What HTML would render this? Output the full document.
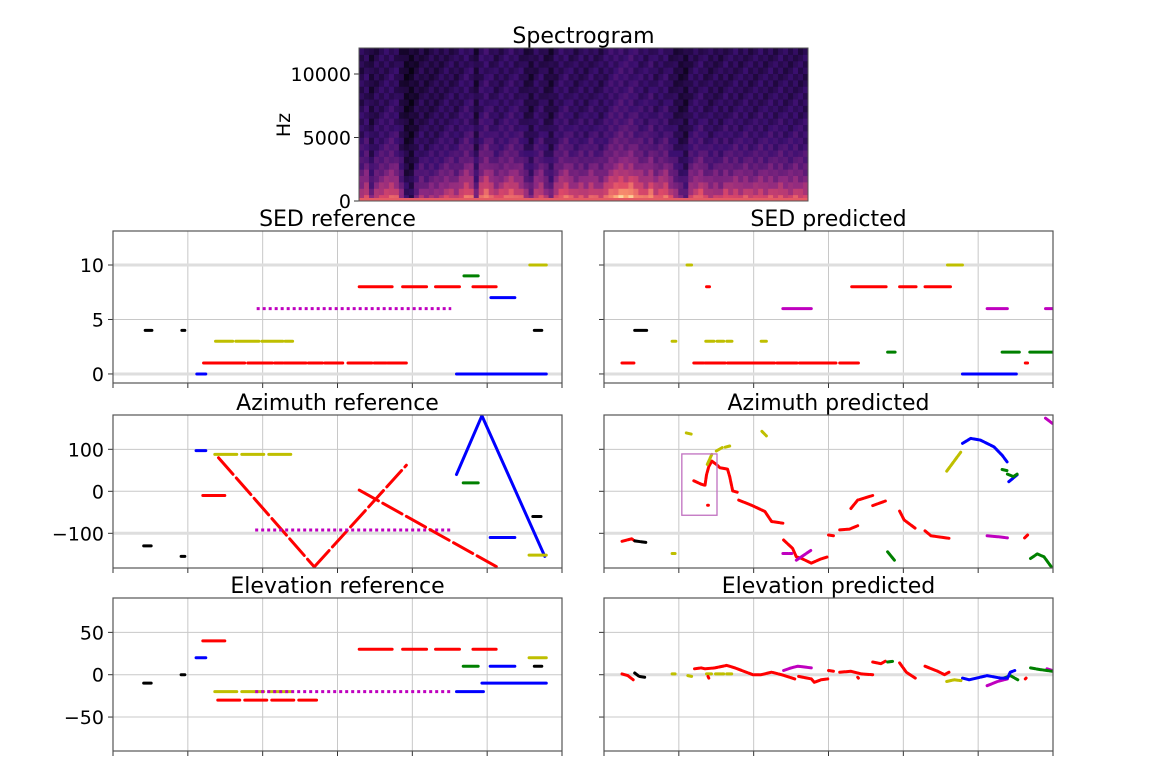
<!DOCTYPE html>
<html><head><meta charset="utf-8"><style>
html,body{margin:0;padding:0;background:#fff;}
svg{display:block;font-family:"DejaVu Sans","Liberation Sans",sans-serif;}
</style></head><body>
<svg id="fig" width="1167" height="765" viewBox="0 0 1167 765" xmlns="http://www.w3.org/2000/svg"></svg>
<script>
// ---------- data ----------
const specLoudness = [0.45,0.55,0.3,0.45,0.5,0.55,0.6,0.55,0.35,0.15,0.12,0.3,0.4,0.35,0.4,0.4,0.45,0.5,0.5,0.45,0.55,0.65,0.6,0.3,0.6,0.7,0.6,0.5,0.55,0.6,0.65,0.6,0.55,0.4,0.3,0.5,0.55,0.4,0.3,0.5,0.6,0.65,0.55,0.5,0.55,0.5,0.6,0.55,0.5,0.6,0.7,0.75,0.8,0.75,0.8,0.7,0.65,0.6,0.7,0.55,0.6,0.65,0.5,0.4,0.3,0.25,0.5,0.55,0.6,0.5,0.45,0.5,0.45,0.55,0.5,0.55,0.5,0.55,0.5,0.5,0.55,0.5,0.55,0.5,0.55,0.5,0.5,0.55,0.5,0.5];
const specTicks = [0,5000,10000];
const sedTicks = [0,5,10];
const aziTicks = [-100,0,100];
const eleTicks = [-50,0,50];
const xTicks = [0,1,2,3,4,5,6];

// segments: [color, x1, y1, x2, y2, style]
const sedRefSegs = [
 ['k',.43,4,.52,4],['k',.92,4,.96,4],['k',5.63,4,5.73,4],
 ['b',1.12,0,1.24,0],['b',4.59,0,5.79,0],
 ['r',1.21,1,1.76,1],['r',1.80,1,2.13,1],['r',2.16,1,2.27,1],['r',2.29,1,2.58,1],['r',2.61,1,2.80,1],['r',2.83,1,3.07,1],['r',3.14,1,3.46,1],['r',3.49,1,3.65,1],['r',3.67,1,3.92,1],
 ['y',1.37,3,1.60,3],['y',1.64,3,1.95,3],['y',1.99,3,2.27,3],['y',2.30,3,2.40,3],
 ['m',1.92,6,4.52,6,'dot'],
 ['r',3.29,8,3.73,8],['r',3.87,8,4.19,8],['r',4.31,8,4.63,8],['r',4.81,8,5.12,8],
 ['g',4.69,9,4.88,9],['b',5.05,7,5.37,7],['y',5.57,10,5.79,10]
];
const aziRefSegs = [
 ['k',.41,-130,.51,-130],['k',.91,-155,.96,-155],['b',1.11,97,1.24,97],
 ['r',1.2,-10,1.55,-10,'dash'],['y',1.36,88,2.43,88,'dash'],
 ['r',1.41,80,2.69,-180,'dash'],['r',2.69,-180,3.92,62,'dash'],
 ['m',1.9,-92,4.52,-92,'dot'],['r',3.29,3,5.13,-180,'dash'],
 ['b',4.59,40,4.93,180],['b',4.93,180,5.77,-155],
 ['g',4.68,20,4.88,20],['b',5.04,-110,5.37,-110],['k',5.61,-60,5.72,-60],['y',5.56,-152,5.79,-152]
];
const eleRefSegs = [
 ['k',.41,-10,.51,-10],['k',.91,0,.96,0],['b',1.11,20,1.24,20],['r',1.2,40,1.55,40,'dash'],
 ['y',1.36,-20,2.43,-20,'dash'],['r',1.40,-30,2.72,-30,'dash'],['m',1.9,-20,4.52,-20,'dot'],
 ['r',3.29,30,3.73,30],['r',3.87,30,4.19,30],['r',4.31,30,4.63,30],['r',4.81,30,5.12,30],
 ['b',4.59,-20,4.95,-20],['g',4.68,10,4.88,10],['b',5.04,10,5.37,10],['b',4.93,-10,5.79,-10],
 ['k',5.63,10,5.73,10],['y',5.56,20,5.79,20]
];
const sedPredSegs = [
 ['r',.24,1,.40,1],['k',.41,4,.57,4],['y',.91,3,.96,3],['y',1.11,10,1.17,10],['r',1.37,8,1.41,8],
 ['y',1.36,3,1.47,3],['y',1.51,3,1.60,3],['y',1.64,3,1.71,3],['y',2.10,3,2.17,3],
 ['r',1.20,1,1.33,1],['r',1.35,1,1.62,1],['r',1.65,1,2.28,1],['r',2.31,1,2.58,1],['r',2.61,1,3.10,1],['r',3.15,1,3.40,1],
 ['m',2.39,6,2.77,6],['r',3.31,8,3.77,8],['r',3.95,8,4.17,8],['r',4.29,8,4.63,8],
 ['g',3.79,2,3.89,2],['y',4.59,10,4.79,10],['b',4.79,0,5.51,0],['m',5.12,6,5.39,6],
 ['g',5.32,2,5.55,2],['r',5.63,1,5.66,1],['g',5.69,2,6.0,2],['m',5.9,6,6.0,6]
];
// polylines: [color, flat x,y list]
const aziPredLines = [
 ['r',[.24,-119,.37,-113,.41,-118]],['k',[.41,-118,.49,-120,.57,-122]],
 ['y',[.91,-148,.95,-148]],['y',[1.1,139,1.17,136]],
 ['r',[1.20,25,1.30,17,1.35,14,1.37,39,1.40,59,1.44,72,1.50,64,1.55,56,1.65,53,1.68,35,1.72,1,1.78,-2]],
 ['r',[1.80,-21,1.97,-33,2.15,-48,2.24,-72,2.39,-76]],
 ['r',[2.40,-116,2.52,-136,2.57,-156,2.64,-160,2.77,-171,2.90,-161,2.99,-156]],
 ['r',[3.00,-104,3.07,-106]],['r',[3.15,-92,3.28,-90,3.39,-82]],
 ['r',[3.30,-41,3.39,-21,3.59,-10]],['r',[3.59,-34,3.76,-23]],
 ['r',[3.95,-47,4.01,-68,4.16,-88]],['r',[4.29,-94,4.37,-106,4.61,-112]],
 ['r',[5.62,-111,5.66,-104]],['r',[1.385,-33,1.395,-33]],
 ['y',[1.38,64,1.44,88]],['y',[1.50,96,1.58,104]],['y',[1.62,105,1.68,108]],['y',[2.11,143,2.17,132]],['y',[4.58,48,4.77,94]],
 ['b',[4.79,114,4.90,126,5.03,122,5.21,106,5.32,86,5.39,69]],['b',[5.41,23,5.52,39]],
 ['g',[5.32,52,5.39,49]],['g',[5.39,41,5.47,35,5.52,41]],['g',[3.79,-144,3.88,-164]],
 ['g',[5.70,-160,5.79,-149,5.88,-156,5.99,-183]],
 ['m',[2.39,-148,2.51,-148]],['m',[2.57,-164,2.77,-140]],['m',[5.12,-106,5.26,-108,5.39,-111]],['m',[5.90,174,5.99,162]]
];
const elePredLines = [
 ['r',[.24,1,.32,-1,.39,-6]],['k',[.41,2,.47,-2,.55,-3]],
 ['y',[.91,1,.95,1]],['y',[1.12,-1,1.17,-2]],['y',[1.37,1,1.45,1]],['y',[1.49,1,1.60,1]],['y',[1.64,1,1.71,1]],
 ['r',[1.21,7,1.30,8,1.35,7,1.48,8,1.64,11,1.75,8,1.84,5,1.99,0,2.10,0,2.24,3,2.37,0,2.55,-5]],
 ['r',[2.60,-2,2.77,-5,2.81,-9,2.90,-6,2.99,-5]],['r',[3.00,5,3.07,4]],
 ['r',[3.15,3,3.30,4,3.44,1,3.59,0]],['r',[3.39,-3,3.40,-4]],['r',[1.39,-2,1.40,-4]],
 ['r',[3.59,15,3.70,13,3.76,16]],['r',[3.95,14,4.04,3,4.16,-4]],
 ['r',[4.29,10,4.46,4,4.55,0,4.61,3]],['r',[5.63,-5,5.64,-4]],
 ['m',[2.40,5,2.50,8,2.59,10,2.77,8]],['m',[5.12,-13,5.26,-8,5.39,-5]],['m',[5.92,7,5.99,5]],
 ['g',[3.79,15,3.87,16]],['g',[5.34,-4,5.43,-1,5.53,-6]],['g',[5.70,8,5.83,6,5.99,4]],
 ['b',[4.79,-4,4.88,-6,5.12,-1,5.30,-4,5.39,-4,5.43,3,5.49,5]],
 ['y',[4.58,-8,4.68,-6,4.77,-7]]
];
const predBox = [1.04,-57,1.51,89];

// ---------- drawing ----------
const NS='http://www.w3.org/2000/svg';
const svg=document.getElementById('fig');
const COL={r:'#ff0000',b:'#0000ff',g:'#008000',k:'#000000',y:'#bfbf00',m:'#bf00bf'};
function mk(tag,attrs,parent){const e=document.createElementNS(NS,tag);for(const k in attrs)e.setAttribute(k,attrs[k]);(parent||svg).appendChild(e);return e;}

function axes(name,x0,x1,y0,y1,ymin,ymax,yt,labels,title,emph){
  const g=mk('g',{});
  
  
  const sx=v=>x0+(v-0)/6*(x1-x0);
  const sy=v=>y1-(v-ymin)/(ymax-ymin)*(y1-y0);
  xTicks.forEach(t=>{
    if(t>0&&t<6){const l=mk('line',{x1:sx(t),x2:sx(t),y1:y0,y2:y1,stroke:'#c8c8c8','stroke-width':1},g);
    
    }
    const tk=mk('line',{x1:sx(t),x2:sx(t),y1:y1,y2:y1+5,stroke:'#333','stroke-width':1},g);
    
    
  });
  yt.forEach(t=>{
    const em=emph.includes(t);
    const l=mk('line',{x1:x0,x2:x1,y1:sy(t),y2:sy(t),stroke:em?'#dedede':'#c8c8c8','stroke-width':em?3:1},g);
    
    
    const tk=mk('line',{x1:x0-5,x2:x0,y1:sy(t),y2:sy(t),stroke:'#333','stroke-width':1},g);
    
    
    if(labels){const tx=mk('text',{x:x0-9,y:sy(t)+7,'text-anchor':'end','font-size':19,fill:'#000'},g);
      tx.textContent=(t<0?'\u2212'+(-t):''+t);
      
      }
  });
  const tt=mk('text',{x:(x0+x1)/2,y:y0-5,'text-anchor':'middle','font-size':22,fill:'#000'},g);
  tt.textContent=title;
  
  
  const data=mk('g',{'clip-path':'url(#c'+name+')'},g);
  const cp=mk('clipPath',{id:'c'+name},g);mk('rect',{x:x0,y:y0,width:x1-x0,height:y1-y0},cp);
  const fr=mk('rect',{x:x0,y:y0,width:x1-x0,height:y1-y0,fill:'none',stroke:'#555','stroke-width':1.2},g);
  
  
  return {g:data,sx,sy};
}
function drawSegs(ax,segs){
  segs.forEach(s=>{
    const a={x1:ax.sx(s[1]),y1:ax.sy(s[2]),x2:ax.sx(s[3]),y2:ax.sy(s[4]),stroke:COL[s[0]],'stroke-width':3,'stroke-linecap':'round'};
    if(s[5]==='dot'){a['stroke-dasharray']='3,3';a['stroke-linecap']='butt';}
    if(s[5]==='dash'){a['stroke-dasharray']='22,5';}
    const l=mk('line',a,ax.g);
    
    
  });
}
function drawLines(ax,lines){
  lines.forEach(s=>{
    const p=[];for(let i=0;i<s[1].length;i+=2)p.push(ax.sx(s[1][i]).toFixed(1)+','+ax.sy(s[1][i+1]).toFixed(1));
    const l=mk('polyline',{points:p.join(' '),fill:'none',stroke:COL[s[0]],'stroke-width':3,'stroke-linecap':'round','stroke-linejoin':'round','stroke-dasharray':'5,1.2'},ax.g);
    
    
  });
}

// spectrogram
(function(){
  const x0=359,x1=808,y0=48,y1=201;
  const g=mk('g',{});
  
  
  const stops=[[0,0,0,4],[.2,59,15,112],[.4,140,41,129],[.6,222,73,104],[.8,254,159,109],[1,252,253,191]];
  function magma(v){v=Math.max(0,Math.min(1,v));for(let i=1;i<stops.length;i++){if(v<=stops[i][0]){const a=stops[i-1],b=stops[i],t=(v-a[0])/(b[0]-a[0]);return 'rgb('+[1,2,3].map(k=>Math.round(a[k]+(b[k]-a[k])*t)).join(',')+')';}}return 'rgb(252,253,191)';}
  const n=specLoudness.length,cw=(x1-x0)/n,rows=24,rh=(y1-y0)/rows;
  const ymax=12047,sy=v=>y1-v/ymax*(y1-y0);
  for(let i=0;i<n;i++){const L=specLoudness[i];
    for(let j=0;j<rows;j++){const f=j/rows;
      const v=0.04+L*(0.2+0.85*Math.exp(-f*5))+((i*7+j*13)%5-2)*0.02;
      const r=mk('rect',{x:(x0+i*cw).toFixed(2),y:(y1-(j+1)*rh).toFixed(2),width:(cw+0.5).toFixed(2),height:(rh+0.5).toFixed(2),fill:magma(v)},g);
      
      
    }}
  mk('rect',{x:x0,y:y1-3,width:x1-x0,height:3,fill:'rgb(230,90,100)'},g);
  specTicks.forEach(t=>{
    const tk=mk('line',{x1:x0-5,x2:x0,y1:sy(t),y2:sy(t),stroke:'#333'},g);
    
    
    const tx=mk('text',{x:x0-8,y:sy(t)+7,'text-anchor':'end','font-size':19},g);tx.textContent=t;
    
    
  });
  const hz=mk('text',{x:290,y:125,'text-anchor':'middle','font-size':19,transform:'rotate(-90 290 125)'},g);hz.textContent='Hz';
  
  
  const tt=mk('text',{x:(x0+x1)/2,y:43,'text-anchor':'middle','font-size':22},g);tt.textContent='Spectrogram';
  
  
  const fr=mk('rect',{x:x0,y:y0,width:x1-x0,height:y1-y0,fill:'none',stroke:'#555','stroke-width':1},g);
  
  
})();

const LX0=113,LX1=562,RX0=604,RX1=1053;
const a1=axes('sed-reference',LX0,LX1,231,383,-0.83,13.12,sedTicks,true,'SED reference',[0,10]);
drawSegs(a1,sedRefSegs);
const a2=axes('sed-predicted',RX0,RX1,231,383,-0.83,13.12,sedTicks,false,'SED predicted',[0,10]);
drawSegs(a2,sedPredSegs);
const a3=axes('azimuth-reference',LX0,LX1,415,568,-182.6,181.7,aziTicks,true,'Azimuth reference',[-100]);
drawSegs(a3,aziRefSegs);
const a4=axes('azimuth-predicted',RX0,RX1,415,568,-182.6,181.7,aziTicks,false,'Azimuth predicted',[-100]);
drawLines(a4,aziPredLines);
const bx=mk('rect',{x:a4.sx(predBox[0]),y:a4.sy(predBox[3]),width:a4.sx(predBox[2])-a4.sx(predBox[0]),height:a4.sy(predBox[1])-a4.sy(predBox[3]),fill:'none',stroke:'#c070c0','stroke-width':1.3},a4.g);


const a5=axes('elevation-reference',LX0,LX1,598,751,-90.1,90.6,eleTicks,true,'Elevation reference',[]);
drawSegs(a5,eleRefSegs);
const a6=axes('elevation-predicted',RX0,RX1,598,751,-90.1,90.6,eleTicks,false,'Elevation predicted',[0]);
drawLines(a6,elePredLines);
</script>
</body></html>
